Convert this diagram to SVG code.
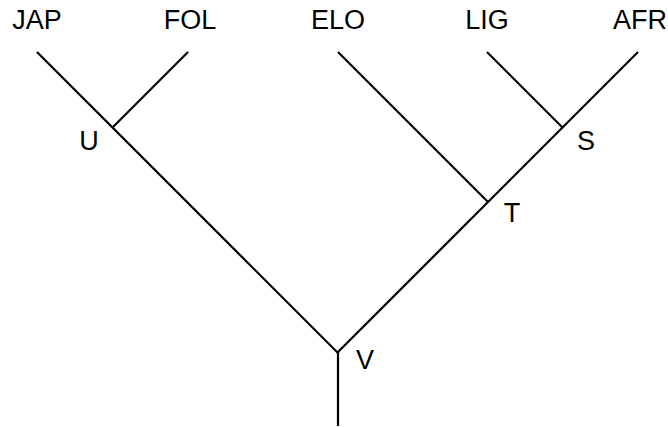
<svg xmlns="http://www.w3.org/2000/svg" width="668" height="427" viewBox="0 0 668 427">
<style>
.e{stroke:#000;stroke-width:2.2;fill:none;stroke-linecap:butt}
text{font-family:"Liberation Sans",Arial,sans-serif;font-size:27px;fill:#000;text-anchor:middle}
</style>
<rect width="668" height="427" fill="#fff"/>
<g id="connectors">
<line class="e" x1="37" y1="52" x2="338" y2="353"/>
<line class="e" x1="188" y1="52" x2="113" y2="127"/>
<line class="e" x1="338" y1="52" x2="488" y2="202"/>
<line class="e" x1="487" y1="52" x2="563" y2="128"/>
<line class="e" x1="638" y1="52" x2="337" y2="353"/>
<line class="e" x1="338" y1="352" x2="338" y2="426"/>
</g>
<g id="JAP"><text x="37" y="29">JAP</text></g>
<g id="FOL"><text x="190" y="29">FOL</text></g>
<g id="ELO"><text x="338" y="29">ELO</text></g>
<g id="LIG"><text x="487" y="29">LIG</text></g>
<g id="AFR"><text x="640" y="29">AFR</text></g>
<g id="U"><text x="89" y="150">U</text></g>
<g id="S"><text x="586" y="150">S</text></g>
<g id="T"><text x="512" y="222">T</text></g>
<g id="V"><text x="365" y="369">V</text></g>
</svg>
